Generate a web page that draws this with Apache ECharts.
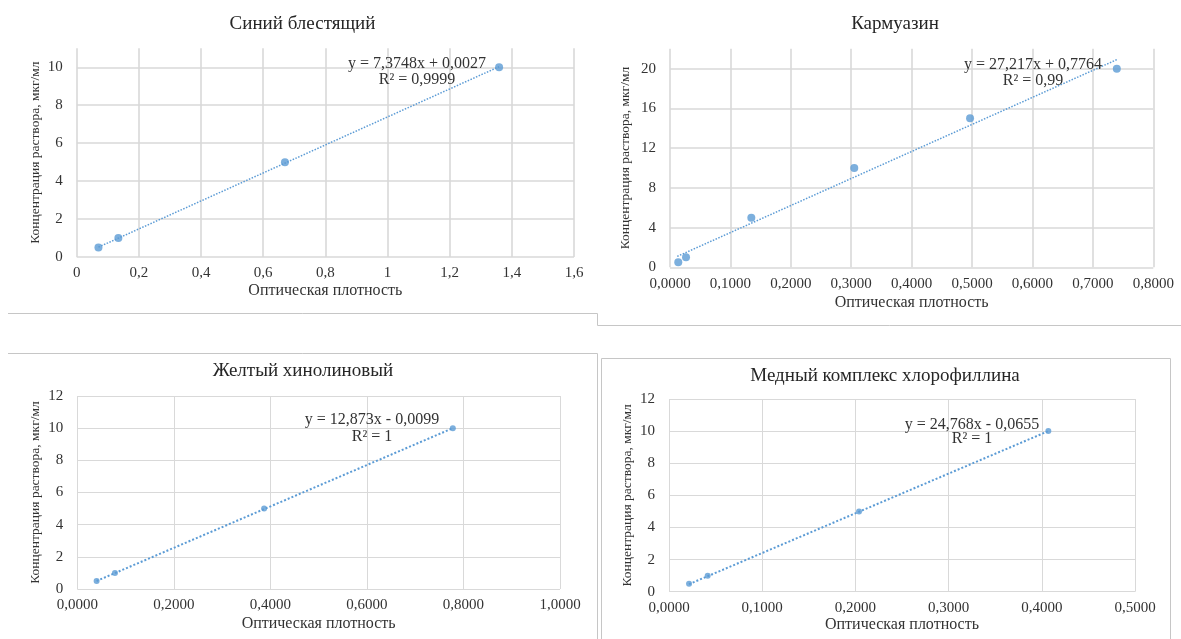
<!DOCTYPE html>
<html>
<head>
<meta charset="utf-8">
<script src="https://cdn.jsdelivr.net/npm/echarts@6/dist/echarts.min.js"></script>
<style>
  html, body { margin: 0; padding: 0; background: #fff; }
  #chart { width: 1181px; height: 639px; }
</style>
</head>
<body>
<div id="chart"></div>
<script>
    // --- data ---
    const titles = ['Синий блестящий', 'Кармуазин', 'Желтый хинолиновый', 'Медный комплекс хлорофиллина']
    const xName = 'Оптическая плотность'
    const yName = 'Концентрация раствора, мкг/мл'

    const blueX = [0.070, 0.134, 0.670, 1.359]
    const blueY = [0.5, 1, 5, 10]
    const blueTrendX = [0.070, 1.359]
    const blueTrendY = [0.52, 10.03]

    const carmX = [0.0137, 0.0265, 0.1346, 0.3050, 0.4967, 0.7396]
    const carmY = [0.5, 1, 5, 10, 15, 20]
    const carmTrendX = [0.0120, 0.7400]
    const carmTrendY = [1.10, 20.92]

    const yellowX = [0.040, 0.078, 0.387, 0.778]
    const yellowY = [0.5, 1, 5, 10]
    const yellowTrendX = [0.040, 0.778]
    const yellowTrendY = [0.50, 10.00]

    const copperX = [0.0215, 0.0415, 0.2039, 0.4070]
    const copperY = [0.5, 1, 5, 10]
    const copperTrendX = [0.0215, 0.4070]
    const copperTrendY = [0.47, 10.00]

    const equations = [
        'y = 7,3748x + 0,0027\nR² = 0,9999',
        'y = 27,217x + 0,7764\nR² = 0,99',
        'y = 12,873x - 0,0099\nR² = 1',
        'y = 24,768x - 0,0655\nR² = 1'
    ]

    const BLUE = '#5b9bd5'
    const GRID = '#d9d9d9'
    const TXT = '#333'
    const FONT = '"Liberation Serif", "Times New Roman", serif'
    const BORDER = '#c6c6c6'

    const pairs = (xs, ys) => xs.map((x, i) => [x, ys[i]])
    const comma = (d) => (v) => (d === null ? String(+v.toFixed(1)) : v.toFixed(d)).replace('.', ',')

    // panel layout (pixel boxes of the plot areas)
    const panels = [
        { left: 76.7, top: 48.3, width: 497.3, height: 208.7, xMax: 1.6, xInt: 0.2, yMax: 11, yInt: 2, dec: null, xGap: 26, yGap: 34 },
        { left: 670, top: 48.8, width: 483.3, height: 218.5, xMax: 0.8, xInt: 0.1, yMax: 22, yInt: 4, dec: 4, xGap: 27, yGap: 38 },
        { left: 77.3, top: 396, width: 482.7, height: 193, xMax: 1.0, xInt: 0.2, yMax: 12, yInt: 2, dec: 4, xGap: 27, yGap: 35 },
        { left: 669, top: 399, width: 466, height: 192.7, xMax: 0.5, xInt: 0.1, yMax: 12, yInt: 2, dec: 4, xGap: 25, yGap: 35 }
    ]

    const grid = panels.map(p => ({ left: p.left, top: p.top, width: p.width, height: p.height }))

    const xAxis = panels.map((p, i) => ({
        type: 'value', gridIndex: i, min: 0, max: p.xMax, interval: p.xInt,
        name: xName, nameLocation: 'middle', nameGap: p.xGap,
        nameTextStyle: { fontFamily: FONT, fontSize: 16, color: TXT },
        axisLine: { show: false }, axisTick: { show: false },
        axisLabel: { formatter: comma(p.dec), fontFamily: FONT, fontSize: 15, color: TXT, margin: 9 },
        splitLine: { show: true, lineStyle: { color: GRID, width: i < 2 ? 1.6 : 1 } }
    }))

    const yAxis = panels.map((p, i) => ({
        type: 'value', gridIndex: i, min: 0, max: p.yMax, interval: p.yInt,
        name: yName, nameLocation: 'middle', nameGap: p.yGap,
        nameTextStyle: { fontFamily: FONT, fontSize: 13.5, color: TXT },
        axisLine: { show: false }, axisTick: { show: false },
        axisLabel: { fontFamily: FONT, fontSize: 15, color: TXT, margin: 14, showMaxLabel: p.yMax % p.yInt === 0 },
        splitLine: { show: true, showMaxLine: p.yMax % p.yInt === 0, lineStyle: { color: GRID, width: i < 2 ? 1.6 : 1 } }
    }))

    const sets = [
        [blueX, blueY, blueTrendX, blueTrendY, 8],
        [carmX, carmY, carmTrendX, carmTrendY, 8],
        [yellowX, yellowY, yellowTrendX, yellowTrendY, 6],
        [copperX, copperY, copperTrendX, copperTrendY, 6]
    ]

    const series = []
    sets.forEach((s, i) => {
        series.push({
            type: 'line', xAxisIndex: i, yAxisIndex: i,
            data: pairs(s[2], s[3]), showSymbol: false, silent: true,
            lineStyle: { color: BLUE, width: i < 2 ? 1.5 : 2, type: 'dotted' }, z: 2
        })
        series.push({
            type: 'scatter', xAxisIndex: i, yAxisIndex: i,
            data: pairs(s[0], s[1]), symbolSize: s[4],
            itemStyle: { color: BLUE }, z: 3
        })
    })

    const titlePos = [[302.5, 15], [895, 15], [303, 362], [885, 367]]
    const title = titles.map((t, i) => ({
        text: t, left: titlePos[i][0], top: titlePos[i][1], textAlign: 'center', padding: 0,
        textStyle: { fontFamily: FONT, fontSize: 19, fontWeight: 'normal', color: '#262626' }
    }))

    const eqPos = [[417, 72], [1033, 73], [372, 428], [972, 432]]
    const eqLine = [16, 16, 17, 14]
    const graphic = equations.map((e, i) => ({
        type: 'text', x: eqPos[i][0], y: eqPos[i][1], z: 10,
        style: { text: e, fontFamily: FONT, fontSize: 16, fill: TXT, align: 'center', verticalAlign: 'middle', lineHeight: eqLine[i] }
    }))
    // frames around the pasted charts
    graphic.push(
        { type: 'polyline', shape: { points: [[8, 313.5], [597.5, 313.5], [597.5, 325.5], [1181, 325.5]] }, style: { stroke: BORDER, lineWidth: 1, fill: null } },
        { type: 'polyline', shape: { points: [[8, 353.5], [597.5, 353.5], [597.5, 639]] }, style: { stroke: BORDER, lineWidth: 1, fill: null } },
        { type: 'rect', shape: { x: 601.5, y: 358.5, width: 569, height: 290 }, style: { stroke: BORDER, lineWidth: 1, fill: null } }
    )

    const myChart = echarts.init(document.getElementById('chart'))
    myChart.setOption({
        backgroundColor: '#fff',
        animation: false,
        title: title,
        grid: grid,
        xAxis: xAxis,
        yAxis: yAxis,
        series: series,
        graphic: graphic
    })
</script>
</body>
</html>
